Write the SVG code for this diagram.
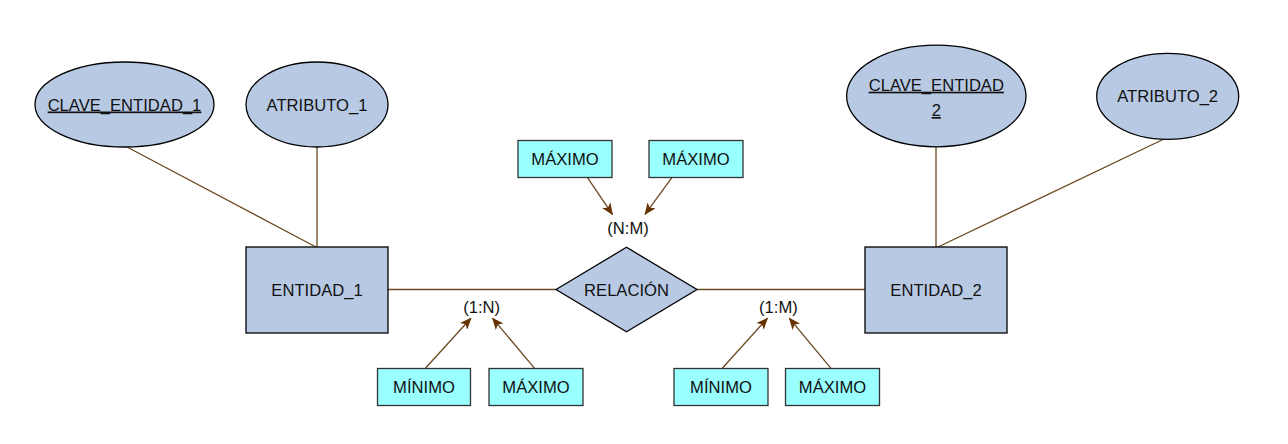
<svg xmlns="http://www.w3.org/2000/svg" width="1288" height="444" viewBox="0 0 1288 444">
<style>
.ent{fill:#b8c9e4;stroke:#000;stroke-width:1.3}
.card{fill:#99ffff;stroke:#333;stroke-width:1.3}
.t{font-family:"Liberation Sans",Arial,sans-serif;font-size:16.6px;fill:#111;text-anchor:middle}
.u{text-decoration:underline}
.ln{stroke:#6b4a22;stroke-width:1.3;fill:none}
.ar{stroke:#6b4a22;stroke-width:1.3;fill:none;marker-end:url(#ah)}
</style>
<defs>
<marker id="ah" viewBox="0 0 12 10" refX="11" refY="5" markerWidth="12" markerHeight="10" markerUnits="userSpaceOnUse" orient="auto">
<path d="M0,0 L12,5 L0,10 L3,5 Z" fill="#663300"/>
</marker>
</defs>
<rect width="1288" height="444" fill="#fff"/>
<g id="connectors">
<line class="ln" x1="127" y1="147" x2="316" y2="247"/>
<line class="ln" x1="317" y1="147" x2="317" y2="247"/>
<line class="ln" x1="936" y1="147" x2="936" y2="247"/>
<line class="ln" x1="1164" y1="139" x2="938" y2="247"/>
<line class="ln" x1="388" y1="289.5" x2="556" y2="289.5"/>
<line class="ln" x1="697" y1="289.5" x2="865" y2="289.5"/>
<line class="ar" x1="587.3" y1="177.3" x2="612.4" y2="214.3"/>
<line class="ar" x1="672" y1="177.3" x2="645.1" y2="214.3"/>
<line class="ar" x1="425.4" y1="368.3" x2="470.9" y2="318.3"/>
<line class="ar" x1="534.6" y1="368.3" x2="492.6" y2="318.3"/>
<line class="ar" x1="722.3" y1="368.3" x2="767.4" y2="318.3"/>
<line class="ar" x1="831" y1="368.3" x2="789.4" y2="318.3"/>
</g>
<g id="clave1">
<ellipse class="ent" cx="124.5" cy="104.5" rx="89.5" ry="42.5"/>
<text class="t u" x="124.5" y="110.5">CLAVE_ENTIDAD_1</text>
</g>
<g id="atributo1">
<ellipse class="ent" cx="317" cy="104.5" rx="71" ry="42.5"/>
<text class="t" x="317" y="110.5">ATRIBUTO_1</text>
</g>
<g id="entidad1">
<rect class="ent" x="246" y="247" width="142" height="86"/>
<text class="t" x="317" y="296">ENTIDAD_1</text>
</g>
<g id="clave2">
<ellipse class="ent" cx="936.3" cy="96" rx="89.7" ry="50.8"/>
<text class="t u" x="936.3" y="90.7">CLAVE_ENTIDAD</text>
<text class="t u" x="936.3" y="116">2</text>
</g>
<g id="atributo2">
<ellipse class="ent" cx="1167.7" cy="96.3" rx="71" ry="43"/>
<text class="t" x="1167.7" y="102.3">ATRIBUTO_2</text>
</g>
<g id="entidad2">
<rect class="ent" x="865" y="247" width="142" height="86"/>
<text class="t" x="936" y="296">ENTIDAD_2</text>
</g>
<g id="relacion">
<polygon class="ent" points="556,289.5 626.5,247.3 697,289.5 626.5,331.7"/>
<text class="t" x="626.5" y="295.5">RELACIÓN</text>
</g>
<g id="card-nm">
<text class="t" x="628" y="233.5">(N:M)</text>
</g>
<g id="card-1n">
<text class="t" x="481.6" y="312.5">(1:N)</text>
</g>
<g id="card-1m">
<text class="t" x="778.4" y="312.5">(1:M)</text>
</g>
<g id="max-top1">
<rect class="card" x="518" y="140.5" width="94" height="37"/>
<text class="t" x="565" y="164.8">MÁXIMO</text>
</g>
<g id="max-top2">
<rect class="card" x="649" y="140.5" width="94" height="37"/>
<text class="t" x="696" y="164.8">MÁXIMO</text>
</g>
<g id="min-1">
<rect class="card" x="377.5" y="368.5" width="93" height="37"/>
<text class="t" x="424" y="392.8">MÍNIMO</text>
</g>
<g id="max-1">
<rect class="card" x="489" y="368.5" width="94" height="37"/>
<text class="t" x="536" y="392.8">MÁXIMO</text>
</g>
<g id="min-2">
<rect class="card" x="674" y="368.5" width="94" height="37"/>
<text class="t" x="721" y="392.8">MÍNIMO</text>
</g>
<g id="max-2">
<rect class="card" x="785.5" y="368.5" width="94" height="37"/>
<text class="t" x="832.5" y="392.8">MÁXIMO</text>
</g>
</svg>
